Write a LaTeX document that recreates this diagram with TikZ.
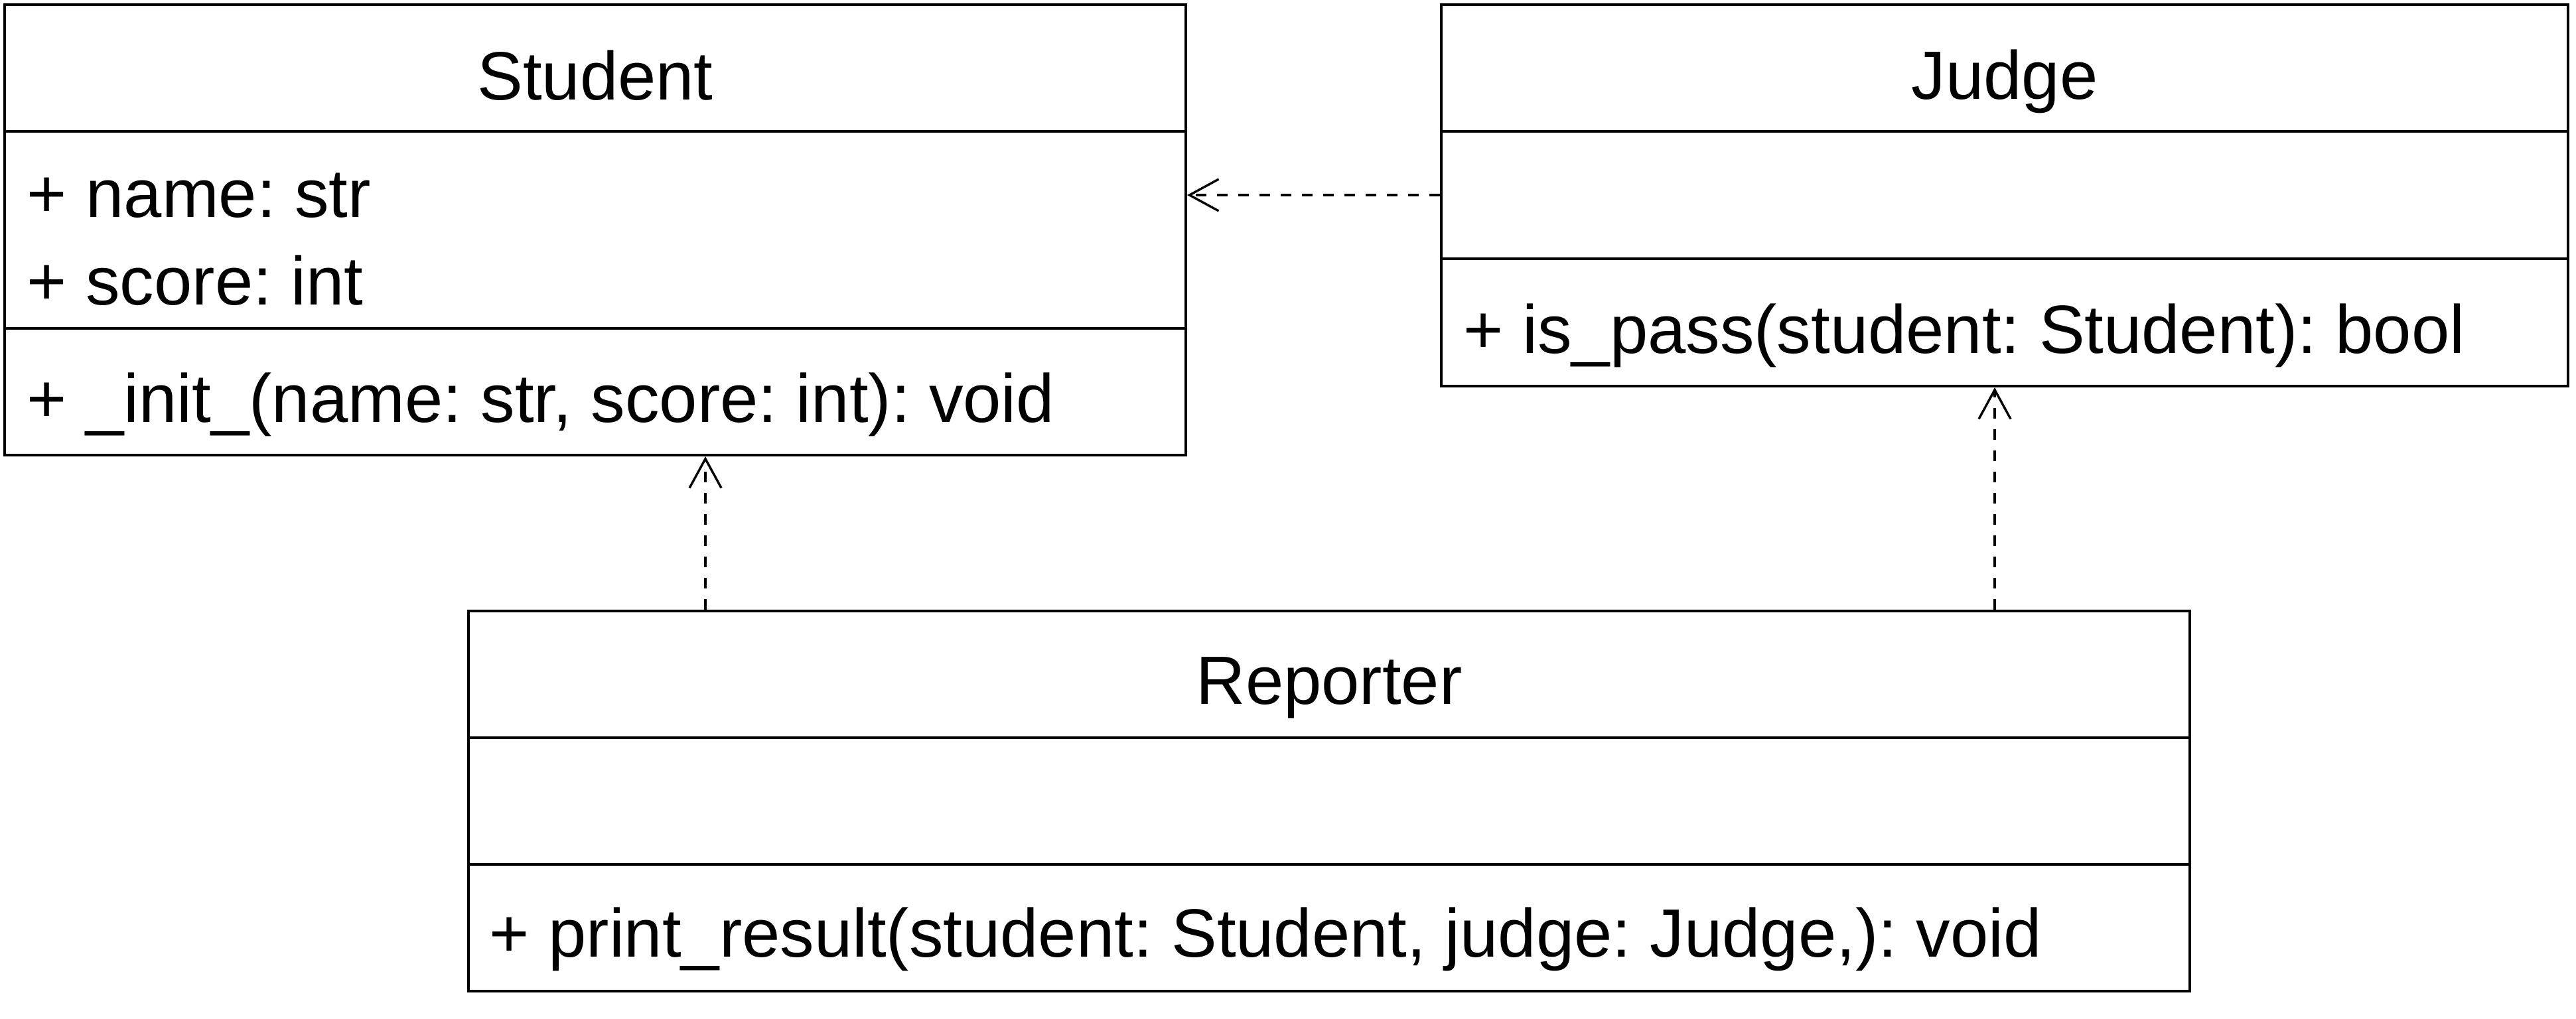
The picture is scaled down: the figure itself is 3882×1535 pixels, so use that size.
\documentclass[tikz,border=0pt]{standalone}
\usepackage{fontspec}
\setmainfont{Liberation Sans}
\usetikzlibrary{arrows.meta,fit}
\frenchspacing
\begin{document}
\begin{tikzpicture}[x=0.25pt,y=-0.25pt,
  comp/.style={draw, line width=1pt, inner sep=0pt},
  lbl/.style={inner sep=0pt, font=\fontsize{25.75pt}{30pt}\selectfont},
  dep/.style={draw, line width=0.85pt, dash pattern=on 4pt off 4pt,
    -{Straight Barb[length=11pt,width=12pt]}}]
\useasboundingbox (0,0) rectangle (3882,1535);
% Student
\node[comp, fit={(7,7)(1787,198)}] (stuH) {};
\node[comp, fit={(7,198)(1787,495)}] (stuA) {};
\node[comp, fit={(7,495)(1787,686)}] (stuM) {};
\node[lbl, anchor=base] (stuT) at (897,150) {Student};
\node[lbl, anchor=base west] (stuA1) at (40,327) {+ name: str};
\node[lbl, anchor=base west] (stuA2) at (40,459) {+ score: int};
\node[lbl, anchor=base west] (stuM1) at (40,636) {+ \_init\_(name: str, score: int): void};
% Judge
\node[comp, fit={(2172,7)(3870,198)}] (judH) {};
\node[comp, fit={(2172,198)(3870,390)}] (judA) {};
\node[comp, fit={(2172,390)(3870,582)}] (judM) {};
\node[lbl, anchor=base] (judT) at (3021,149) {Judge};
\node[lbl, anchor=base west] (judM1) at (2205,532) {+ is\_pass(student: Student): bool};
% Reporter
\node[comp, fit={(706,921)(3300,1112)}] (repH) {};
\node[comp, fit={(706,1112)(3300,1303)}] (repA) {};
\node[comp, fit={(706,1303)(3300,1494)}] (repM) {};
\node[lbl, anchor=base] (repT) at (2003,1061) {Reporter};
\node[lbl, anchor=base west] (repM1) at (737,1442) {+ print\_result(student: Student, judge: Judge,): void};
% Dependencies
\draw[dep] (judA.west) -- (judA.west -| stuA.east);
\draw[dep] ([xshift=89.75pt]repH.north west) -- ([xshift=89.75pt]repH.north west |- stuM.south);
\draw[dep] ([xshift=575.5pt]repH.north west) -- ([xshift=575.5pt]repH.north west |- judM.south);
\end{tikzpicture}
\end{document}
